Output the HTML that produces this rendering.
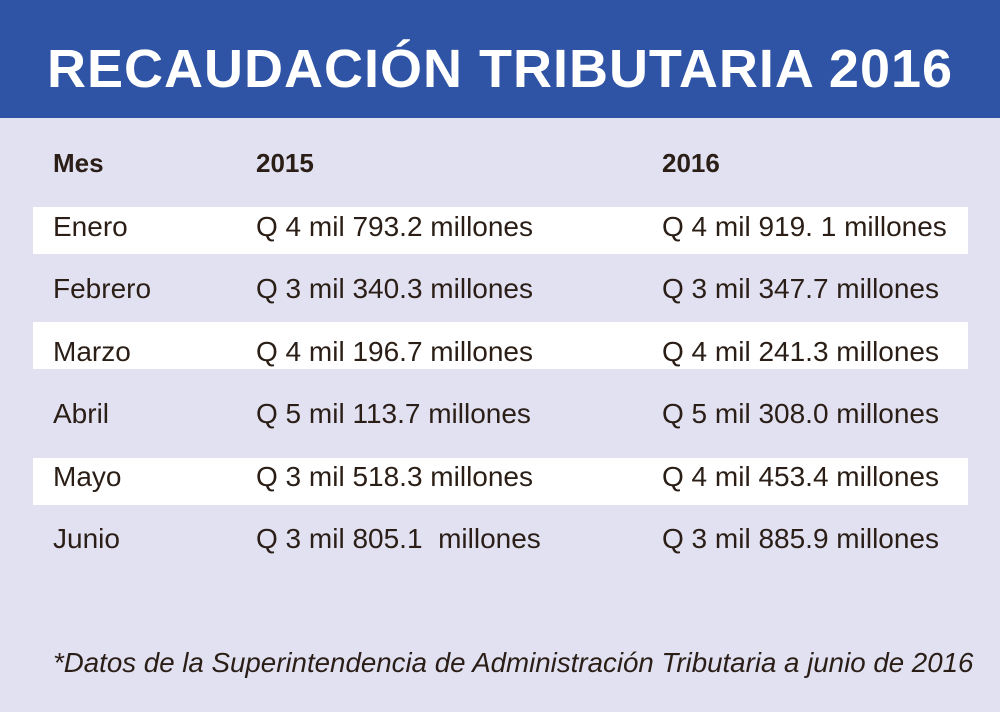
<!DOCTYPE html>
<html><head><meta charset="utf-8"><style>
body{margin:0;width:1000px;height:712px;background:#e1e1f2;position:relative;overflow:hidden;font-family:"Liberation Sans",sans-serif;color:#2a1e16}
.hd{position:absolute;left:0;top:0;width:1000px;height:118px;background:#2f54a6}
.title{position:absolute;left:0;width:1000px;top:34px;text-align:center;color:#fff;font-size:54px;line-height:70px;letter-spacing:1px;white-space:nowrap;font-weight:bold}
.st{position:absolute;left:33px;width:935px;height:47px;background:#fff}
.t{position:absolute;font-size:28px;line-height:32px;white-space:nowrap}
.b{font-weight:bold;font-size:26px}
.fn{position:absolute;left:53px;top:646px;font-size:27.7px;line-height:34px;font-style:italic;white-space:nowrap}
</style></head><body>
<div class="hd"></div>
<div class="title">RECAUDACIÓN TRIBUTARIA 2016</div>
<div class="st" style="top:207px"></div>
<div class="st" style="top:322px"></div>
<div class="st" style="top:458px"></div>
<div class="t b" style="left:53px;top:147px">Mes</div>
<div class="t b" style="left:256px;top:147px">2015</div>
<div class="t b" style="left:662px;top:147px">2016</div>

<div class="t" style="left:53px;top:211px">Enero</div>
<div class="t" style="left:256px;top:211px">Q 4 mil 793.2 millones</div>
<div class="t" style="left:662px;top:211px">Q 4 mil 919. 1 millones</div>

<div class="t" style="left:53px;top:273px">Febrero</div>
<div class="t" style="left:256px;top:273px">Q 3 mil 340.3 millones</div>
<div class="t" style="left:662px;top:273px">Q 3 mil 347.7 millones</div>

<div class="t" style="left:53px;top:336px">Marzo</div>
<div class="t" style="left:256px;top:336px">Q 4 mil 196.7 millones</div>
<div class="t" style="left:662px;top:336px">Q 4 mil 241.3 millones</div>

<div class="t" style="left:53px;top:398px">Abril</div>
<div class="t" style="left:256px;top:398px">Q 5 mil 113.7 millones</div>
<div class="t" style="left:662px;top:398px">Q 5 mil 308.0 millones</div>

<div class="t" style="left:53px;top:461px">Mayo</div>
<div class="t" style="left:256px;top:461px">Q 3 mil 518.3 millones</div>
<div class="t" style="left:662px;top:461px">Q 4 mil 453.4 millones</div>

<div class="t" style="left:53px;top:523px">Junio</div>
<div class="t" style="left:256px;top:523px">Q 3 mil 805.1&nbsp; millones</div>
<div class="t" style="left:662px;top:523px">Q 3 mil 885.9 millones</div>

<div class="fn">*Datos de la Superintendencia de Administración Tributaria a junio de 2016</div>
</body></html>
